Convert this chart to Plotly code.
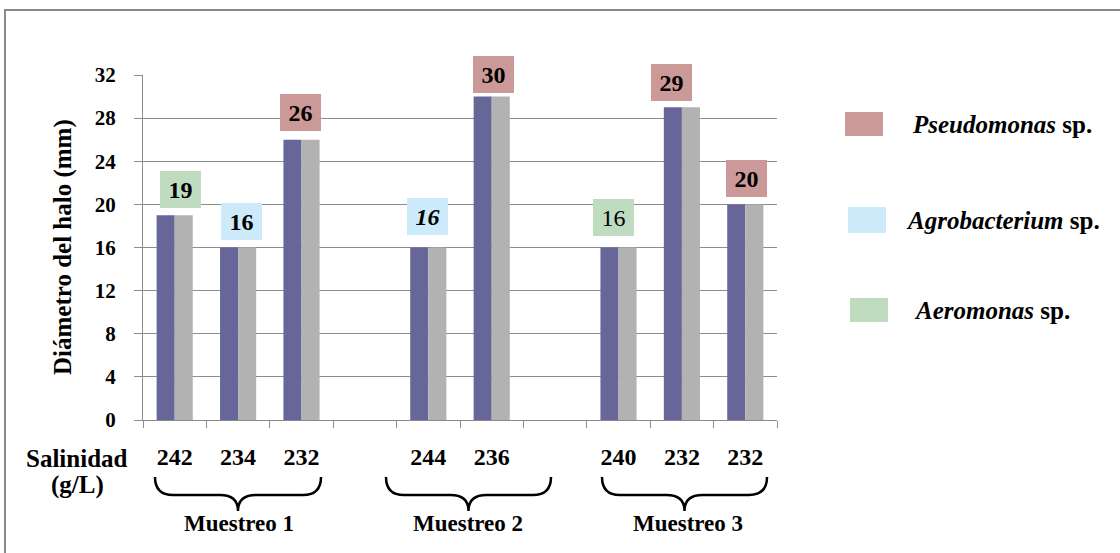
import plotly.graph_objects as go

# ---- data ----
salinity = ["242", "234", "232", "", "244", "236", "", "240", "232", "232"]
halo_mm = [19, 16, 26, None, 16, 30, None, 16, 29, 20]
species = ["Aeromonas", "Agrobacterium", "Pseudomonas", None,
           "Agrobacterium", "Pseudomonas", None,
           "Aeromonas", "Pseudomonas", "Pseudomonas"]
samplings = ["Muestreo 1", "Muestreo 2", "Muestreo 3"]
legend_species = ["Pseudomonas", "Agrobacterium", "Aeromonas"]
y_ticks = [0, 4, 8, 12, 16, 20, 24, 28, 32]

# ---- styling ----
W, H = 1120, 553
L, R, T, B = 143, 777, 75, 420          # plot area in pixels
FONT = "Liberation Serif"
PURPLE = "#666699"
GREY = "#b2b2b2"
GRID = "#8c8c8c"
species_color = {"Pseudomonas": "#cc9999",
                 "Agrobacterium": "#cdeafb",
                 "Aeromonas": "#c0dcc0"}
label_style = ["b", "b", "b", None, "bi", "b", None, "r", "b", "b"]
label_nudge = [(6, 7), (3, 7.5), (-1.5, 9), None, (-1, 13), (2, 4), None,
               (-5, 11.5), (-10, 6), (1, 7)]
brace_px = [(155, 321), (386, 551), (602, 767)]   # left/right ends of each brace
caption_px = [239, 468, 688]                      # caption centres under braces


def px(x):
    return (x - L) / (R - L)


def py(y):
    return (B - y) / (B - T)


def text_at(x, y, text, size, **kw):
    """Centred free text placed in pixel coordinates."""
    opts = dict(x=px(x), y=py(y), xref="paper", yref="paper", text=text,
                showarrow=False, xanchor="center", yanchor="middle",
                font=dict(family=FONT, size=size, color="black"))
    opts.update(kw)
    return opts


n = len(salinity)
xs = list(range(n))

fig = go.Figure()
for color in (PURPLE, GREY):
    fig.add_trace(go.Bar(x=xs, y=halo_mm, marker=dict(color=color, line=dict(width=0)),
                         showlegend=False, hoverinfo="skip"))

annotations = []
shapes = []

# value labels on coloured boxes
for i, v in enumerate(halo_mm):
    if v is None:
        continue
    style = label_style[i]
    txt = str(v)
    if "i" in style:
        txt = f"<i>{txt}</i>"
    if "b" in style:
        txt = f"<b>{txt}</b>"
    dx, dy = label_nudge[i]
    annotations.append(dict(
        x=i, y=v, xref="x", yref="y", text=txt, showarrow=False,
        xanchor="center", yanchor="bottom", xshift=dx, yshift=dy,
        width=41, height=37, bgcolor=species_color[species[i]],
        borderpad=0, borderwidth=0,
        font=dict(family=FONT, size=24, color="black")))

# y axis title
annotations.append(text_at(63, 247, "<b>Diámetro del halo (mm)</b>", 25, textangle=-90))

# salinity row caption
annotations.append(text_at(77, 458, "<b>Salinidad</b>", 25))
annotations.append(text_at(77, 485, "<b>(g/L)</b>", 25))

# sampling braces and captions
for name, (xl, xr), xc in zip(samplings, brace_px, caption_px):
    xm = (xl + xr) / 2
    yt, yb, ytip = 477, 495, 511
    r = 18
    path = (f"M {px(xl)},{py(yt)} Q {px(xl)},{py(yb)} {px(xl + r)},{py(yb)} "
            f"L {px(xm - r)},{py(yb)} Q {px(xm)},{py(yb)} {px(xm)},{py(ytip)} "
            f"Q {px(xm)},{py(yb)} {px(xm + r)},{py(yb)} "
            f"L {px(xr - r)},{py(yb)} Q {px(xr)},{py(yb)} {px(xr)},{py(yt)}")
    shapes.append(dict(type="path", path=path, xref="paper", yref="paper",
                       line=dict(color="black", width=2.5)))
    annotations.append(text_at(xc, 523, f"<b>{name}</b>", 23))

# species key
key_rows = [(112, 136, 845, 910), (207, 233, 848, 904), (298, 322, 850, 912)]
for sp_name, (y0, y1, x0, xt) in zip(legend_species, key_rows):
    shapes.append(dict(type="rect", xref="paper", yref="paper",
                       x0=px(x0), x1=px(x0 + 38), y0=py(y1), y1=py(y0),
                       fillcolor=species_color[sp_name], line=dict(width=0)))
    annotations.append(text_at(xt, (y0 + y1) / 2, f"<b><i>{sp_name}</i> sp.</b>", 25,
                               xanchor="left"))

# outer frame
shapes.append(dict(type="rect", xref="paper", yref="paper",
                   x0=px(5), x1=px(1130), y0=py(565), y1=py(10),
                   line=dict(color="#8a8a8a", width=2), fillcolor="rgba(0,0,0,0)",
                   layer="below"))

fig.update_layout(
    width=W, height=H,
    margin=dict(l=L, r=W - R, t=T, b=H - B, autoexpand=False),
    paper_bgcolor="white", plot_bgcolor="white",
    barmode="group", bargap=0.43, bargroupgap=0,
    annotations=annotations, shapes=shapes,
    xaxis=dict(range=[-0.5, n - 0.5], tickmode="array", tickvals=xs, ticktext=salinity,
               ticks="", showgrid=False, zeroline=False,
               showline=True, linecolor=GRID, linewidth=1,
               ticklabelstandoff=15,
               tickfont=dict(family=FONT, size=24, color="black", weight="bold"),
               minor=dict(tickmode="array", tickvals=[i - 0.5 for i in range(n + 1)],
                          ticks="outside", ticklen=7, tickcolor=GRID, tickwidth=1,
                          showgrid=False)),
    yaxis=dict(range=[0, 32], tickmode="array", tickvals=y_ticks,
               ticks="outside", ticklen=8, tickcolor=GRID, tickwidth=1,
               showgrid=True, gridcolor=GRID, gridwidth=1, zeroline=False,
               showline=True, linecolor=GRID, linewidth=1,
               ticklabelstandoff=14,
               tickfont=dict(family=FONT, size=21, color="black", weight="bold")),
    font=dict(family=FONT),
)

fig.write_html("out.html")
